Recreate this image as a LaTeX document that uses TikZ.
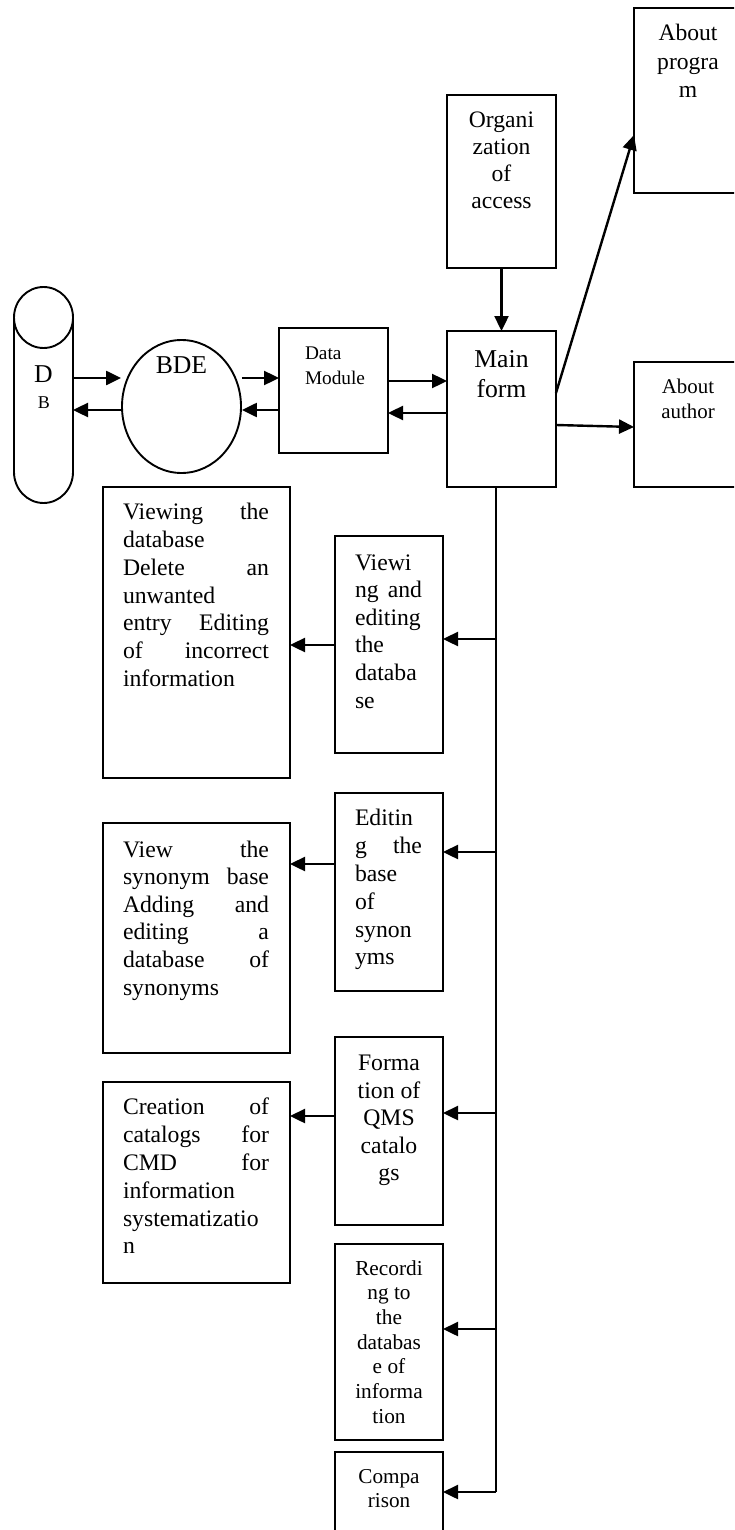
\documentclass[tikz,border=0pt]{standalone}
\usepackage{fontspec}
\setmainfont{Liberation Serif}
\usetikzlibrary{arrows.meta,shapes.geometric}
\tikzset{
  bx/.style={draw, line width=1.9pt, rectangle, inner sep=0pt, outer sep=0pt, anchor=north west},
  arr/.style={line width=2.4pt, -{Triangle[length=15pt,width=14pt]}},
  ln/.style={line width=1.9pt},
  tl/.style={inner sep=0pt, outer sep=0pt, anchor=north west, align=left},
  tc/.style={inner sep=0pt, outer sep=0pt, anchor=north, align=center},
}
\begin{document}
\begin{tikzpicture}[x=1pt,y=-1pt]
\clip (0,0) rectangle (734,1530);
\fill[white] (0,0) rectangle (734,1530);

% ---------- DB cylinder ----------
\node[inner sep=0pt, outer sep=0pt, minimum width=59pt, minimum height=216pt, anchor=north west] (db) at (14,287) {};
\draw[ln] (43.5,317.5) ellipse [x radius=29.5pt, y radius=30.5pt];
\draw[ln] (14,317.5) -- (14,472) arc[start angle=180, end angle=360, x radius=29.5pt, y radius=31pt] -- (73,317.5);
\node[inner sep=0pt, anchor=base, font=\fontsize{25.7}{30}\selectfont] (dbD) at (43.5,382) {D};
\node[inner sep=0pt, anchor=base, font=\fontsize{18}{22}\selectfont] (dbB) at (44,408) {B};

% ---------- BDE ----------
\node[draw, ellipse, line width=1.9pt, minimum width=119pt, minimum height=133pt, inner sep=0pt] (bde) at (181.5,406.5) {};
\node[inner sep=0pt, anchor=base, font=\fontsize{25.7}{30}\selectfont] (bdeT) at (181.5,373) {BDE};

% ---------- boxes ----------
\node[bx, minimum width=109pt, minimum height=125pt] (dm) at (279,328) {};
\node[bx, minimum width=109pt, minimum height=156pt] (main) at (447,331) {};
\node[bx, minimum width=109pt, minimum height=173pt] (org) at (447,95) {};
\node[bx, minimum width=108pt, minimum height=185pt] (aprog) at (634,8) {};
\node[bx, minimum width=108pt, minimum height=125pt] (aauth) at (634,362) {};
\node[bx, minimum width=187pt, minimum height=291pt] (vbig) at (103,487) {};
\node[bx, minimum width=108pt, minimum height=217pt] (vsm) at (335,536) {};
\node[bx, minimum width=108pt, minimum height=198pt] (esm) at (335,793) {};
\node[bx, minimum width=187pt, minimum height=230pt] (vsyn) at (103,823) {};
\node[bx, minimum width=108pt, minimum height=188pt] (form) at (335,1037) {};
\node[bx, minimum width=187pt, minimum height=201pt] (creat) at (103,1082) {};
\node[bx, minimum width=108pt, minimum height=196pt] (rec) at (335,1244) {};
\node[bx, minimum width=108pt, minimum height=108pt] (comp) at (335,1452) {};

% ---------- texts ----------
\node[tl, font=\fontsize{19.3}{25}\selectfont] (dmT) at (305,341.5) {\strut Data\\Module};
\node[tc, font=\fontsize{25.7}{30}\selectfont] (mainT) at (501.5,346) {\strut Main\\form};
\node[tc, font=\fontsize{23.6}{26.7}\selectfont] (orgT) at (501.5,109.3) {\strut Organi\\zation\\of\\access};
\node[tc, font=\fontsize{23.6}{28.5}\selectfont] (aprogT) at (688,21) {\strut About\\progra\\m};
\node[tc, font=\fontsize{20.9}{25}\selectfont] (aauthT) at (688,375.5) {\strut About\\author};

\node[tl, font=\fontsize{23.7}{27.7}\selectfont] (vbigT) at (123,500.6) {\strut\makebox[146pt][s]{Viewing the}\\database\\\makebox[146pt][s]{Delete an}\\unwanted\\\makebox[146pt][s]{entry Editing}\\\makebox[146pt][s]{of incorrect}\\information};
\node[tl, font=\fontsize{23.7}{27.6}\selectfont] (vsmT) at (355,550.7) {\strut Viewi\\\makebox[67pt][s]{ng and}\\editing\\the\\databa\\se};
\node[tl, font=\fontsize{23.7}{27.8}\selectfont] (esmT) at (355,806.5) {\strut Editin\\\makebox[67pt][s]{g the}\\base\\of\\synon\\yms};
\node[tl, font=\fontsize{23.7}{27.6}\selectfont] (vsynT) at (123,837.7) {\strut\makebox[146pt][s]{View the}\\\makebox[146pt][s]{synonym base}\\\makebox[146pt][s]{Adding and}\\\makebox[146pt][s]{editing a}\\\makebox[146pt][s]{database of}\\synonyms};
\node[tc, font=\fontsize{23.7}{27.5}\selectfont] (formT) at (389,1051.7) {\strut Forma\\tion of\\QMS\\catalo\\gs};
\node[tl, font=\fontsize{23.7}{27.8}\selectfont] (creatT) at (123,1095.5) {\strut\makebox[146pt][s]{Creation of}\\\makebox[146pt][s]{catalogs for}\\\makebox[146pt][s]{CMD for}\\information\\systematizatio\\n};
\node[tc, font=\fontsize{21.3}{24.7}\selectfont] (recT) at (389,1257.7) {\strut Recordi\\ng to\\the\\databas\\e of\\informa\\tion};
\node[tc, font=\fontsize{21.2}{24}\selectfont] (compT) at (389,1466.2) {\strut Compa\\rison};

% ---------- connectors top ----------
\draw[arr] (db.east |- 0,378) -- (bde.west |- 0,378);
\draw[arr] (bde.west |- 0,410) -- (db.east |- 0,410);
\draw[arr] (bde.east |- 0,378) -- (dm.west |- 0,378);
\draw[arr] (dm.west |- 0,410) -- (bde.east |- 0,410);
\draw[arr] (dm.east |- 0,381) -- (main.west |- 0,381);
\draw[arr] (main.west |- 0,413) -- (dm.east |- 0,413);
\draw[arr] (org.south) -- (main.north);
\draw[arr] (main.east |- 0,393) -- (aprog.west |- 0,135);
\draw[arr] (main.east |- 0,425) -- (aauth.west |- 0,427);

% ---------- trunk ----------
\coordinate (tt) at (496,487);
\coordinate (tb) at (496,1492);
\coordinate (b1) at (496,639);
\coordinate (b2) at (496,852);
\coordinate (b3) at (496,1113);
\coordinate (b4) at (496,1329);
\draw[ln] (tt) -- (tb);
\draw[arr] (tb) -- (comp.east |- tb);
\draw[arr] (b1) -- (vsm.east |- b1);
\draw[arr] (b2) -- (esm.east |- b2);
\draw[arr] (b3) -- (form.east |- b3);
\draw[arr] (b4) -- (rec.east |- b4);

% ---------- small -> big ----------
\draw[arr] (vsm.west |- 0,645) -- (vbig.east |- 0,645);
\draw[arr] (esm.west |- 0,864) -- (vsyn.east |- 0,864);
\draw[arr] (form.west |- 0,1116) -- (creat.east |- 0,1116);
\end{tikzpicture}
\end{document}
